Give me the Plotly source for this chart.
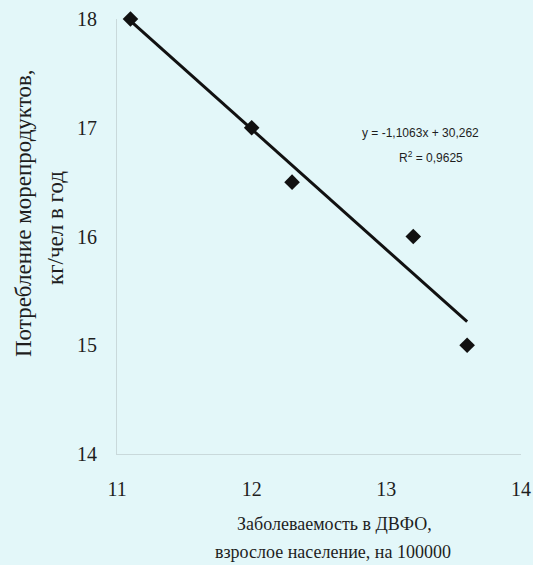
import plotly.graph_objects as go

incidence = [11.1, 12.0, 12.3, 13.2, 13.6]
consumption = [18.0, 17.0, 16.5, 16.0, 15.0]
x_ticks = [11, 12, 13, 14]
y_ticks = [14, 15, 16, 17, 18]
slope = -1.1063
intercept = 30.262
r2_text = "0,9625"

trend_x = [min(incidence), max(incidence)]
trend_y = [slope * v + intercept for v in trend_x]

bg = "#e3f7f9"
serif = "Liberation Serif, Times New Roman, serif"
sans = "Liberation Sans, Arial, sans-serif"
ink = "#1e1e1e"

W, H = 533, 565
L, R, T, B = 117, 12, 19, 111
PW, PH = W - L - R, H - T - B


def to_paper(px, py):
    return (px - L) / PW, (H - B - py) / PH


fig = go.Figure()
fig.add_trace(go.Scatter(x=trend_x, y=trend_y, mode="lines",
                         line=dict(color="#111111", width=3), showlegend=False,
                         hoverinfo="skip", cliponaxis=False))
fig.add_trace(go.Scatter(x=incidence, y=consumption, mode="markers",
                         marker=dict(symbol="diamond", size=12, color="#111111"),
                         showlegend=False, cliponaxis=False))

anns = []
for txt, (px, py) in [("Заболеваемость в ДВФО,", (334, 524)),
                      ("взрослое население, на 100000", (333, 552))]:
    xx, yy = to_paper(px, py)
    anns.append(dict(text=txt, x=xx, y=yy, xref="paper", yref="paper", showarrow=False,
                     xanchor="center", yanchor="middle",
                     font=dict(family=serif, size=18, color=ink)))
for txt, (px, py) in [("Потребление морепродуктов,", (24, 213)),
                      ("кг/чел в год", (55, 228))]:
    xx, yy = to_paper(px, py)
    anns.append(dict(text=txt, x=xx, y=yy, xref="paper", yref="paper", showarrow=False,
                     textangle=-90, xanchor="center", yanchor="middle",
                     font=dict(family=serif, size=23, color=ink)))
for txt, (px, py) in [(f"y = {slope:.4f}x + {intercept:.3f}".replace(".", ","), (420, 133)),
                      (f"R<sup>2</sup> = {r2_text}", (431, 157))]:
    xx, yy = to_paper(px, py)
    anns.append(dict(text=txt, x=xx, y=yy, xref="paper", yref="paper", showarrow=False,
                     xanchor="center", yanchor="middle",
                     font=dict(family=sans, size=12, color=ink)))

fig.update_layout(
    width=W, height=H, autosize=False,
    paper_bgcolor=bg, plot_bgcolor=bg,
    margin=dict(l=L, r=R, t=T, b=B, pad=0, autoexpand=False),
    font=dict(family=serif, size=19, color=ink),
    xaxis=dict(range=[11, 14], tickvals=x_ticks, showgrid=False, zeroline=False,
               showline=True, linecolor="#c9d9db", linewidth=1,
               ticks="", ticklabelstandoff=17,
               tickfont=dict(family=serif, size=20, color=ink)),
    yaxis=dict(range=[14, 18], tickvals=y_ticks, showgrid=False, zeroline=False,
               showline=True, linecolor="#c9d9db", linewidth=1,
               ticks="", ticklabelstandoff=15,
               tickfont=dict(family=serif, size=20, color=ink)),
    annotations=anns,
)

fig.write_html("out.html", config={"displayModeBar": False, "responsive": False})

with open("out.html", "r", encoding="utf-8") as f:
    html = f.read()
html = html.replace("<head>", "<head><style>html,body{margin:0;padding:0;overflow:hidden;}</style>", 1)
with open("out.html", "w", encoding="utf-8") as f:
    f.write(html)
